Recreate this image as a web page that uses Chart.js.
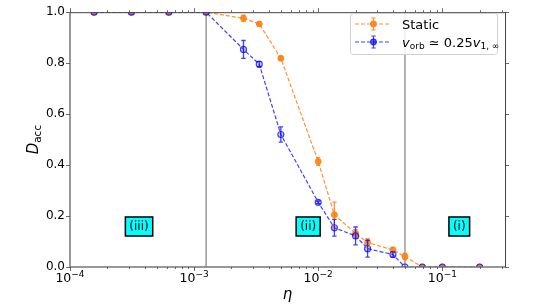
<!DOCTYPE html>
<html>
<head>
<meta charset="utf-8">
<script src="https://cdn.jsdelivr.net/npm/chart.js@4.4.1/dist/chart.umd.min.js"></script>
<style>
html,body{margin:0;padding:0;background:#fff;}
#wrap{width:538px;height:304px;position:relative;}
</style>
</head>
<body>
<div id="wrap"><canvas id="c" width="538" height="304"></canvas></div>
<script>
// ---- data ----
const eta = [1.5625e-4, 3.125e-4, 6.25e-4, 1.25e-3, 2.5e-3, 3.35e-3, 5e-3, 0.01, 0.0135, 0.02, 0.025, 0.04, 0.05, 0.069, 0.1, 0.2];
const staticVals = [1, 1, 1, 1, 0.976, 0.954, 0.819, 0.414, 0.205, 0.132, 0.096, 0.067, 0.041, 0, 0, 0];
const staticErr  = [0, 0, 0, 0, 0.012, 0.006, 0.006, 0.015, 0.05, 0.015, 0.015, 0.01, 0.012, 0, 0, 0];
const orbitVals  = [1, 1, 1, 1, 0.854, 0.796, 0.52, 0.254, 0.154, 0.122, 0.072, 0.049, 0, 0, 0, 0];
const orbitErr   = [0, 0, 0, 0, 0.035, 0.01, 0.03, 0.005, 0.033, 0.035, 0.033, 0.01, 0, 0, 0, 0];
const yTicks = [0, 0.2, 0.4, 0.6, 0.8, 1.0];
const regionLines = [1.25e-3, 0.05];
const regionLabels = ['(iii)', '(ii)', '(i)'];
const regionLabelX = [3.6e-4, 8.3e-3, 0.137];
const regionLabelY = [0.159, 0.159, 0.159];

const ORANGE = 'rgba(255,127,14,0.85)';
const BLUE = 'rgba(0,0,255,0.75)';
const FONT = '"DejaVu Sans", sans-serif';

function pts(vals){ return eta.map((x,i)=>({x:x, y:vals[i]})); }

// all 1..9 x 10^n ticks inside the range
function logTicks(min, max){
  const out=[];
  for(let e=Math.floor(Math.log10(min)); e<=Math.ceil(Math.log10(max)); e++){
    for(let m=1;m<10;m++){
      const v = m*Math.pow(10,e);
      if(v>=min*0.9999 && v<=max*1.0001) out.push({value:v, major:m===1});
    }
  }
  return out;
}

const framePlugin = {
  id:'frame',
  beforeDatasetsDraw(chart){
    const {ctx, chartArea:a, scales:{x}} = chart;
    ctx.save();
    ctx.strokeStyle = '#9a9a9a';
    ctx.lineWidth = 1.5;
    regionLines.forEach(v=>{
      const px = x.getPixelForValue(v);
      ctx.beginPath(); ctx.moveTo(px, a.top); ctx.lineTo(px, a.bottom); ctx.stroke();
    });
    ctx.restore();
  },
  afterDatasetsDraw(chart){
    const {ctx, chartArea:a, scales:{x,y}} = chart;
    // error bars
    const sets = [[0, staticErr, staticVals, ORANGE],[1, orbitErr, orbitVals, BLUE]];
    ctx.save();
    sets.forEach(([di, err, vals, col])=>{
      const meta = chart.getDatasetMeta(di);
      ctx.strokeStyle = col; ctx.lineWidth = 1.3;
      meta.data.forEach((p,i)=>{
        if(!err[i]) return;
        const y1 = y.getPixelForValue(vals[i]-err[i]);
        const y2 = y.getPixelForValue(vals[i]+err[i]);
        ctx.beginPath();
        ctx.moveTo(p.x,y1); ctx.lineTo(p.x,y2);
        ctx.moveTo(p.x-2.2,y1); ctx.lineTo(p.x+2.2,y1);
        ctx.moveTo(p.x-2.2,y2); ctx.lineTo(p.x+2.2,y2);
        ctx.stroke();
      });
    });
    ctx.restore();

    // spines
    ctx.save();
    ctx.lineWidth = 1.5;
    ctx.strokeStyle = '#777';
    ctx.beginPath();
    ctx.moveTo(a.left, a.top); ctx.lineTo(a.left, a.bottom); ctx.lineTo(a.right, a.bottom);
    ctx.stroke();
    ctx.lineWidth = 1;
    ctx.strokeStyle = '#444';
    ctx.beginPath();
    ctx.moveTo(a.left, a.top+0.5); ctx.lineTo(a.right+0.5, a.top+0.5); ctx.lineTo(a.right+0.5, a.bottom);
    ctx.stroke();
    // ticks
    ctx.strokeStyle = '#444'; ctx.lineWidth = 0.8;
    logTicks(x.min, x.max).forEach(t=>{
      const px = Math.round(x.getPixelForValue(t.value))+0.5;
      const L = t.major ? 4 : 2;
      ctx.beginPath();
      ctx.moveTo(px, a.bottom); ctx.lineTo(px, a.bottom+L);
      ctx.moveTo(px, a.top); ctx.lineTo(px, a.top-L);
      ctx.stroke();
    });
    yTicks.forEach(v=>{
      const py = Math.round(y.getPixelForValue(v))+0.5;
      ctx.beginPath();
      ctx.moveTo(a.left, py); ctx.lineTo(a.left-4, py);
      ctx.moveTo(a.right, py); ctx.lineTo(a.right+4, py);
      ctx.stroke();
    });
    ctx.restore();

    // x tick labels with superscript exponents, at the scale's own ticks
    ctx.save();
    ctx.fillStyle = '#000'; ctx.textBaseline = 'alphabetic'; ctx.textAlign = 'left';
    x.ticks.forEach(t=>{
      const e = Math.round(Math.log10(t.value));
      const px = x.getPixelForValue(t.value);
      ctx.font = '12.5px ' + FONT; const w1 = ctx.measureText('10').width;
      const sup = '\u2212' + Math.abs(e);
      ctx.font = '9px ' + FONT; const w2 = ctx.measureText(sup).width;
      const sx = px - (w1+w2)/2;
      ctx.font = '12.5px ' + FONT; ctx.fillText('10', sx, 282);
      ctx.font = '9px ' + FONT; ctx.fillText(sup, sx+w1, 277);
    });
    ctx.restore();

    // region labels
    ctx.save();
    ctx.font = '12px ' + FONT;
    ctx.textAlign = 'center'; ctx.textBaseline = 'middle';
    regionLabels.forEach((s,i)=>{
      const px = x.getPixelForValue(regionLabelX[i]);
      const py = y.getPixelForValue(regionLabelY[i]);
      const w = ctx.measureText(s).width + 8;
      const h = 19;
      ctx.fillStyle = '#00ffff';
      ctx.fillRect(px-w/2, py-h/2, w, h);
      ctx.strokeStyle = '#000'; ctx.lineWidth = 1.5;
      ctx.strokeRect(px-w/2, py-h/2, w, h);
      ctx.fillStyle = '#000';
      ctx.fillText(s, px, py+0.5);
    });
    ctx.restore();

    // axis titles
    ctx.save();
    ctx.fillStyle = '#000';
    ctx.textBaseline = 'alphabetic';
    ctx.font = 'italic 15px ' + FONT;
    ctx.textAlign = 'center';
    ctx.fillText('η', (a.left+a.right)/2, 299);
    ctx.translate(38, (a.top+a.bottom)/2);
    ctx.rotate(-Math.PI/2);
    ctx.textAlign = 'left';
    ctx.font = 'italic 15px ' + FONT;
    const dw = ctx.measureText('D').width;
    ctx.font = '10.5px ' + FONT;
    const sw = ctx.measureText('acc').width;
    const sx = -(dw+sw)/2;
    ctx.font = 'italic 15px ' + FONT;
    ctx.fillText('D', sx, 0);
    ctx.font = '10.5px ' + FONT;
    ctx.fillText('acc', sx+dw, 3);
    ctx.restore();

    // legend
    ctx.save();
    const bx=350.5, by=13.5, bw=147, bh=41, r=3;
    ctx.beginPath();
    ctx.moveTo(bx+r,by); ctx.lineTo(bx+bw-r,by); ctx.quadraticCurveTo(bx+bw,by,bx+bw,by+r);
    ctx.lineTo(bx+bw,by+bh-r); ctx.quadraticCurveTo(bx+bw,by+bh,bx+bw-r,by+bh);
    ctx.lineTo(bx+r,by+bh); ctx.quadraticCurveTo(bx,by+bh,bx,by+bh-r);
    ctx.lineTo(bx,by+r); ctx.quadraticCurveTo(bx,by,bx+r,by);
    ctx.closePath();
    ctx.fillStyle = 'rgba(255,255,255,0.85)'; ctx.fill();
    ctx.strokeStyle = '#d0d0d0'; ctx.lineWidth = 1; ctx.stroke();
    const entries = [[24, ORANGE, ORANGE],[42, BLUE, 'rgba(0,0,255,0.6)']];
    entries.forEach(([ly,col,fill])=>{
      ctx.strokeStyle = col; ctx.lineWidth = 1.2; ctx.setLineDash([4,2]);
      ctx.beginPath(); ctx.moveTo(355,ly); ctx.lineTo(391,ly); ctx.stroke();
      ctx.setLineDash([]);
      ctx.beginPath();
      ctx.moveTo(373.5,ly-6); ctx.lineTo(373.5,ly+6);
      ctx.moveTo(371.3,ly-6); ctx.lineTo(375.7,ly-6);
      ctx.moveTo(371.3,ly+6); ctx.lineTo(375.7,ly+6);
      ctx.stroke();
      ctx.beginPath(); ctx.arc(373.5,ly,2.8,0,Math.PI*2);
      ctx.fillStyle = fill; ctx.fill(); ctx.strokeStyle=col; ctx.stroke();
    });
    ctx.fillStyle = '#000';
    ctx.textBaseline = 'alphabetic'; ctx.textAlign='left';
    ctx.font = '13px ' + FONT;
    ctx.fillText('Static', 402, 28.5);
    let tx = 402; const base = 46.5;
    const seg = (s, font, dy)=>{ ctx.font = font; ctx.fillText(s, tx, base+dy); tx += ctx.measureText(s).width; };
    seg('v', 'italic 13px ' + FONT, 0);
    seg('orb', '9px ' + FONT, 2.5);
    seg(' ≃ 0.25', '13px ' + FONT, 0);
    seg('v', 'italic 13px ' + FONT, 0);
    seg('1, ∞', '9px ' + FONT, 2.5);
    ctx.restore();
  }
};

new Chart(document.getElementById('c'), {
  type: 'line',
  data: {
    datasets: [
      { label:'Static', data: pts(staticVals), borderColor: ORANGE, backgroundColor: ORANGE,
        borderWidth: 1.2, borderDash:[4,2], pointRadius: 3, pointBorderWidth: 1,
        pointBackgroundColor: ORANGE, pointBorderColor: ORANGE, fill:false, tension:0, order: 2 },
      { label:'orb', data: pts(orbitVals), borderColor: BLUE, backgroundColor: BLUE,
        borderWidth: 1.2, borderDash:[4,2], pointRadius: 3, pointBorderWidth: 1.2,
        pointBackgroundColor: 'rgba(0,0,255,0.15)', pointBorderColor: BLUE, fill:false, tension:0, order: 1 }
    ]
  },
  options: {
    responsive: false,
    animation: false,
    layout: { padding: { top: 7, right: 33, left: 0, bottom: 0 } },
    plugins: { legend: { display:false }, tooltip: { enabled:false } },
    scales: {
      x: {
        type: 'logarithmic', min: 1e-4, max: 0.32,
        afterBuildTicks(s){ s.ticks = logTicks(s.min, s.max).filter(t=>t.major).map(t=>({value:t.value})); },
        afterFit(s){ s.height = 37; },
        grid: { display:false, drawTicks:false },
        border: { display:false },
        ticks: { display:false, autoSkip:false, maxRotation:0 }
      },
      y: {
        min: 0, max: 1,
        afterBuildTicks(s){ s.ticks = yTicks.map(v=>({value:v})); },
        afterFit(s){ s.width = 70; },
        grid: { display:false, drawTicks:false },
        border: { display:false },
        ticks: { padding: 5, color:'#000', font: { family: FONT, size: 12 }, callback(v){ return v.toFixed(1); } }
      }
    }
  },
  plugins: [framePlugin]
});
</script>
</body>
</html>
